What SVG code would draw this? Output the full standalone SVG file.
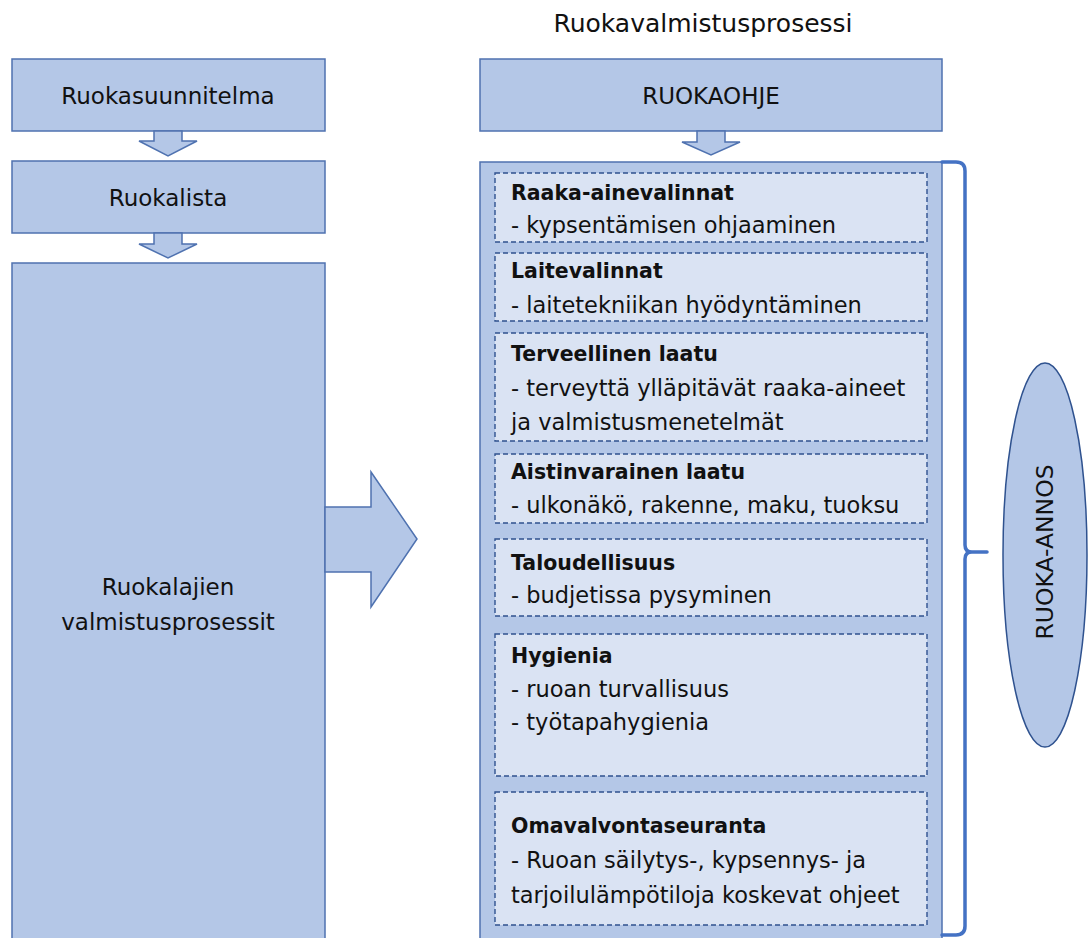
<svg xmlns="http://www.w3.org/2000/svg" width="1089" height="938" viewBox="0 0 1089 938">
<defs>
<style>
.box{fill:#B4C7E7;stroke:#4F72B0;stroke-width:1.5}
.arrow{fill:#B4C7E7;stroke:#4F72B0;stroke-width:1.5;stroke-linejoin:miter}
.item{fill:#DAE3F3;stroke:#2F528F;stroke-width:1.4;stroke-dasharray:5,3}
.t{font-family:"DejaVu Sans",sans-serif;font-size:23px;fill:#111}
.c{text-anchor:middle}
.h{font-family:"DejaVu Sans",sans-serif;font-size:20.5px;font-weight:bold;fill:#111}
.b{font-family:"DejaVu Sans",sans-serif;font-size:22.5px;fill:#111}
.brace{fill:none;stroke:#4472C4;stroke-width:3.5;stroke-linecap:round;stroke-linejoin:round}
</style>
</defs>
<rect width="1089" height="938" fill="#FFFFFF"/>
<text id="title" class="t c" x="703" y="32" style="font-size:25px">Ruokavalmistusprosessi</text>

<g id="ruokasuunnitelma">
<rect class="box" x="12" y="59" width="313" height="72"/>
<text class="t c" x="168" y="104">Ruokasuunnitelma</text>
</g>
<g id="ruokalista">
<rect class="box" x="12" y="161" width="313" height="72"/>
<text class="t c" x="168" y="206">Ruokalista</text>
</g>
<g id="valmistusprosessit">
<rect class="box" x="12" y="263" width="313" height="690"/>
<text class="t c" x="168" y="595">Ruokalajien</text>
<text class="t c" x="168" y="630">valmistusprosessit</text>
</g>
<g id="ruokaohje">
<rect class="box" x="480" y="59" width="462" height="72"/>
<text class="t c" x="711" y="104">RUOKAOHJE</text>
</g>

<g id="container">
<rect class="box" x="480" y="162" width="462" height="790"/>
<g id="item1">
<rect class="item" x="495" y="173" width="432" height="69"/>
<text class="h" x="511" y="200">Raaka-ainevalinnat</text>
<text class="b" x="511" y="233">- kypsentämisen ohjaaminen</text>
</g>
<g id="item2">
<rect class="item" x="495" y="253" width="432" height="68"/>
<text class="h" x="511" y="278">Laitevalinnat</text>
<text class="b" x="511" y="313">- laitetekniikan hyödyntäminen</text>
</g>
<g id="item3">
<rect class="item" x="495" y="333" width="432" height="108"/>
<text class="h" x="511" y="361">Terveellinen laatu</text>
<text class="b" x="511" y="396">- terveyttä ylläpitävät raaka-aineet</text>
<text class="b" x="511" y="430">ja valmistusmenetelmät</text>
</g>
<g id="item4">
<rect class="item" x="495" y="454" width="432" height="69"/>
<text class="h" x="511" y="479">Aistinvarainen laatu</text>
<text class="b" x="511" y="513">- ulkonäkö, rakenne, maku, tuoksu</text>
</g>
<g id="item5">
<rect class="item" x="495" y="539" width="432" height="77"/>
<text class="h" x="511" y="570">Taloudellisuus</text>
<text class="b" x="511" y="603">- budjetissa pysyminen</text>
</g>
<g id="item6">
<rect class="item" x="495" y="634" width="432" height="142"/>
<text class="h" x="511" y="663">Hygienia</text>
<text class="b" x="511" y="697">- ruoan turvallisuus</text>
<text class="b" x="511" y="730">- työtapahygienia</text>
</g>
<g id="item7">
<rect class="item" x="495" y="792" width="432" height="133"/>
<text class="h" x="511" y="833">Omavalvontaseuranta</text>
<text class="b" x="511" y="868">- Ruoan säilytys-, kypsennys- ja</text>
<text class="b" x="511" y="903">tarjoilulämpötiloja koskevat ohjeet</text>
</g>
</g>

<g id="ruoka-annos">
<ellipse cx="1045" cy="555" rx="42" ry="192" fill="#B4C7E7" stroke="#2F528F" stroke-width="1.5"/>
<text class="t c" transform="translate(1045,552) rotate(-90)" x="0" y="0" dominant-baseline="central" style="font-size:23.5px">RUOKA-ANNOS</text>
</g>

<g id="connectors">
<polygon class="arrow" points="154,131 182,131 182,141 197,141 168,156 139,141 154,141"/>
<polygon class="arrow" points="154,233 182,233 182,244 197,244 168,258 139,244 154,244"/>
<polygon class="arrow" points="697,131 725,131 725,142 740,142 711,155 682,142 697,142"/>
<polygon class="arrow" points="325,507 371,507 371,472 417,539 371,607 371,572 325,572"/>
<path class="brace" d="M942,162 L956,162 Q965,162 965,171 L965,545 Q965,552 972,552 L987,552 M972,552 Q965,552 965,559 L965,926 Q965,935 956,935 L942,935"/>
</g>
</svg>
